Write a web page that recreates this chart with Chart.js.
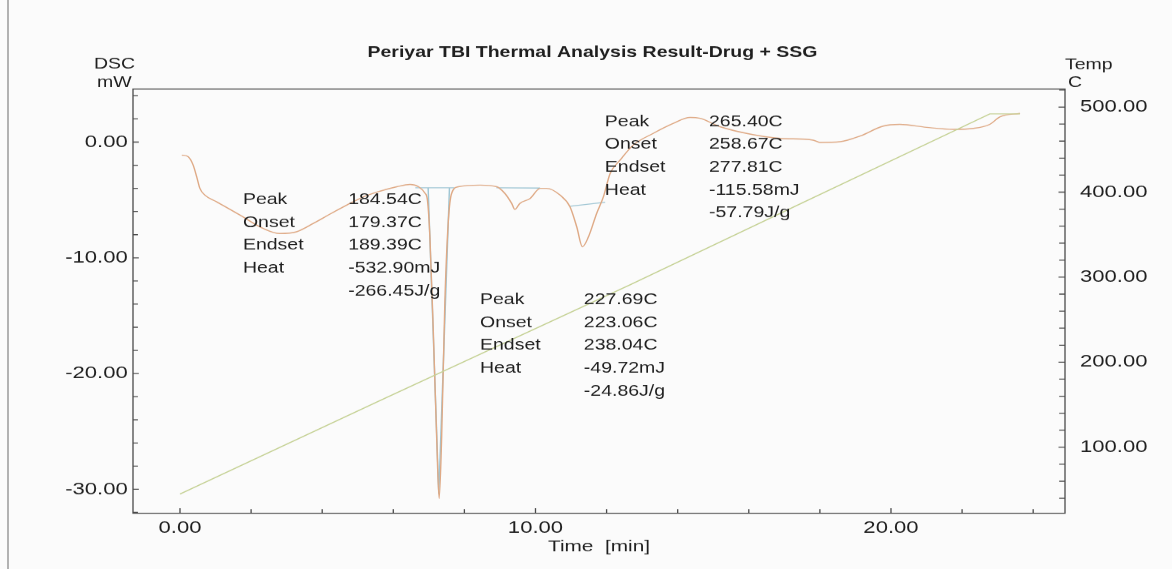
<!DOCTYPE html>
<html><head><meta charset="utf-8">
<script src="https://cdn.jsdelivr.net/npm/chart.js@4.4.1/dist/chart.umd.min.js"></script>
<style>
html,body{margin:0;padding:0;background:#fbfbfb;overflow:hidden}
#c{display:block}
</style></head><body>
<canvas id="c" width="902" height="569" style="width:1172px;height:569px"></canvas>
<script>
// ---------- data ----------
const TITLE = 'Periyar TBI Thermal Analysis Result-Drug + SSG';
const X_TITLE = 'Time  [min]';

const DSC_TIME = [0.05,0.23,0.37,0.47,0.56,0.70,1.03,1.69,2.34,2.81,3.28,3.75,4.22,4.69,5.16,5.63,6.10,6.47,6.71,6.89,6.96,7.03,7.13,7.22,7.29,7.36,7.45,7.55,7.64,7.83,8.44,8.91,9.14,9.33,9.42,9.56,9.85,10.13,10.31,10.69,10.97,11.16,11.32,11.49,11.72,11.91,12.10,12.38,12.75,13.31,13.88,14.35,14.63,15.19,15.94,16.88,17.81,18.00,18.57,19.13,19.78,20.25,21.00,21.75,22.32,22.78,23.07,23.63];
const DSC_MW = [-1.12,-1.27,-1.99,-3.0,-4.0,-4.58,-5.16,-6.31,-7.46,-7.9,-7.75,-7.03,-6.22,-5.45,-4.73,-4.24,-3.86,-3.66,-3.86,-4.41,-5.0,-8.19,-16.8,-25.5,-30.8,-25.5,-13.9,-6.74,-4.44,-3.86,-3.72,-3.86,-4.44,-5.3,-5.82,-5.3,-4.87,-4.0,-4.0,-4.58,-5.59,-7.32,-9.05,-8.19,-6.17,-4.73,-2.71,-1.56,-0.26,0.75,1.62,2.13,2.05,1.33,0.75,0.32,0.17,-0.03,0.03,0.52,1.38,1.53,1.27,1.10,1.18,1.53,2.19,2.48];

const TEMP_TIME = [0.0, 5.63, 12.66, 17.44, 22.78, 23.63];
const TEMP_C    = [45, 155, 291, 386, 492, 492];

// baselines / tangents of the three analysed peaks
const BASE1_TIME = [6.62, 7.72];  const BASE1_MW = [-3.95, -3.95];
const TAN1_TIME  = [6.98, 7.28, 7.58]; const TAN1_MW = [-3.95, -30.4, -3.95];
const BASE2_TIME = [8.90, 10.13]; const BASE2_MW = [-3.95, -3.98];
const BASE3_TIME = [10.97, 11.96]; const BASE3_MW = [-5.55, -5.20];

// axes
const X_RANGE = [-1.322, 24.895];
const DSC_RANGE = [-32.07, 4.58];
const TEMP_RANGE = [22.35, 521.2];
const X_TICKS = [0, 10, 20];
const DSC_TICKS = [0, -10, -20, -30];
const TEMP_TICKS = [100, 200, 300, 400, 500];
const X_MINOR = [0,2,4,6,8,10,12,14,16,18,20,22,24];
const DSC_MINOR = [4,2,0,-2,-4,-6,-8,-10,-12,-14,-16,-18,-20,-22,-24,-26,-28,-30,-32];
const TEMP_MINOR = [40,60,80,100,120,140,160,180,200,220,240,260,280,300,320,340,360,380,400,420,440,460,480,500,520];

// peak annotations: [time of label column, time of value column, mW of first row]
const ANN_LABELS = ['Peak','Onset','Endset','Heat',''];
const ANN1_VALUES = ['184.54C','179.37C','189.39C','-532.90mJ','-266.45J/g'];
const ANN2_VALUES = ['227.69C','223.06C','238.04C','-49.72mJ','-24.86J/g'];
const ANN3_VALUES = ['265.40C','258.67C','277.81C','-115.58mJ','-57.79J/g'];
const ANN1_POS = [1.77, 4.73, -5.01];
const ANN2_POS = [8.44, 11.36, -13.66];
const ANN3_POS = [11.95, 14.88, 1.73];
const ANN_ROW_MW = 1.97;

// ---------- helpers ----------
const SX = 1172 / 902;           // the reference is stretched horizontally
const cx = v => v / SX;          // css x -> chart x
const FONT = '"Liberation Sans", Arial, Helvetica, sans-serif';
const TXT = '#1f1f1f';
const pts = (xs, ys) => xs.map((x, i) => ({x, y: ys[i]}));
const ticksFrom = arr => (s) => { s.ticks = arr.map(v => ({value: v})); };
const fmt = v => Number(v).toFixed(2);

const deco = {
  id: 'deco',
  beforeDraw(chart) {
    const {ctx, width, height} = chart;
    ctx.save();
    ctx.fillStyle = '#fbfbfb';
    ctx.fillRect(0, 0, width, height);
    ctx.strokeStyle = '#8a8a8a';
    ctx.lineWidth = 1;
    ctx.beginPath(); ctx.moveTo(cx(8), 0); ctx.lineTo(cx(8), height); ctx.stroke();
    ctx.restore();
  },
  afterDraw(chart) {
    const {ctx, chartArea: a, scales: {x, y, y2}} = chart;
    ctx.save();
    ctx.strokeStyle = '#4a4a4a';
    ctx.lineWidth = 1;
    ctx.strokeRect(a.left, a.top, a.right - a.left, a.bottom - a.top);
    ctx.beginPath();
    X_MINOR.forEach(v => { const p = x.getPixelForValue(v); const L = X_TICKS.includes(v) ? 5 : 4;
      ctx.moveTo(p, a.bottom); ctx.lineTo(p, a.bottom - L); });
    DSC_MINOR.forEach(v => { const p = y.getPixelForValue(v); const L = DSC_TICKS.includes(v) ? 4.5 : 3.8;
      ctx.moveTo(a.left, p); ctx.lineTo(a.left + L, p); });
    TEMP_MINOR.forEach(v => { const p = y2.getPixelForValue(v); const L = TEMP_TICKS.includes(v) ? 5 : 4.5;
      ctx.moveTo(a.right, p); ctx.lineTo(a.right - L, p); });
    ctx.stroke();

    ctx.fillStyle = TXT;
    ctx.textBaseline = 'middle';
    ctx.textAlign = 'left';
    ctx.font = '15px ' + FONT;
    // unit labels
    ctx.fillText('DSC', cx(94), 64);
    ctx.fillText('mW', cx(97), 83);
    ctx.fillText('Temp', cx(1065), 65);
    ctx.fillText('C', cx(1068), 83);
    // peak annotations
    const block = (pos, values) => {
      const lx = x.getPixelForValue(pos[0]);
      const vx = x.getPixelForValue(pos[1]);
      values.forEach((val, i) => {
        const py = y.getPixelForValue(pos[2] - i * ANN_ROW_MW);
        if (ANN_LABELS[i]) ctx.fillText(ANN_LABELS[i], lx, py);
        ctx.fillText(val, vx, py);
      });
    };
    block(ANN1_POS, ANN1_VALUES);
    block(ANN2_POS, ANN2_VALUES);
    block(ANN3_POS, ANN3_VALUES);
    ctx.restore();
  }
};

const lineDs = (data, color, axis, smooth) => ({
  data, yAxisID: axis, showLine: true, borderColor: color, backgroundColor: color,
  borderWidth: 1.1, pointRadius: 0, pointHoverRadius: 0, fill: false,
  tension: 0, cubicInterpolationMode: smooth ? 'monotone' : 'default'
});

new Chart(document.getElementById('c'), {
  type: 'scatter',
  data: {
    datasets: [
      lineDs(pts(TEMP_TIME, TEMP_C), '#c6d296', 'y2', false),
      lineDs(pts(DSC_TIME, DSC_MW), '#dfaa86', 'y', true),
      lineDs(pts(BASE1_TIME, BASE1_MW), '#9fc6d4', 'y', false),
      lineDs(pts(TAN1_TIME, TAN1_MW), '#9fc6d4', 'y', false),
      lineDs(pts(BASE2_TIME, BASE2_MW), '#9fc6d4', 'y', false),
      lineDs(pts(BASE3_TIME, BASE3_MW), '#9fc6d4', 'y', false)
    ]
  },
  options: {
    responsive: false,
    devicePixelRatio: SX,
    animation: false,
    events: [],
    layout: {padding: {left: 10, right: 0, top: 0, bottom: 0}},
    plugins: {
      legend: {display: false},
      tooltip: {enabled: false},
      title: {
        display: true, text: TITLE, color: TXT,
        font: {family: FONT, size: 15, weight: 'bold'},
        padding: {top: 44, bottom: 27}
      }
    },
    scales: {
      x: {
        type: 'linear', position: 'bottom', min: X_RANGE[0], max: X_RANGE[1],
        afterBuildTicks: ticksFrom(X_TICKS),
        afterFit: s => { s.height = 56; },
        grid: {display: false, drawTicks: false}, border: {display: false},
        ticks: {callback: fmt, color: TXT, font: {family: FONT, size: 17}, padding: 5, maxRotation: 0, autoSkip: false},
        title: {display: true, text: X_TITLE, color: TXT, font: {family: FONT, size: 16}, padding: {top: 0, bottom: 12.4}}
      },
      y: {
        type: 'linear', position: 'left', min: DSC_RANGE[0], max: DSC_RANGE[1],
        afterBuildTicks: ticksFrom(DSC_TICKS),
        afterFit: s => { s.width = cx(133) - 10; },
        grid: {display: false, drawTicks: false}, border: {display: false},
        ticks: {callback: fmt, color: TXT, font: {family: FONT, size: 17}, padding: 4}
      },
      y2: {
        type: 'linear', position: 'right', min: TEMP_RANGE[0], max: TEMP_RANGE[1],
        afterBuildTicks: ticksFrom(TEMP_TICKS),
        afterFit: s => { s.width = 902 - cx(1065); },
        grid: {display: false, drawTicks: false}, border: {display: false},
        ticks: {callback: fmt, color: TXT, font: {family: FONT, size: 17}, padding: 11.5}
      }
    }
  },
  plugins: [deco]
});
</script>
</body></html>
